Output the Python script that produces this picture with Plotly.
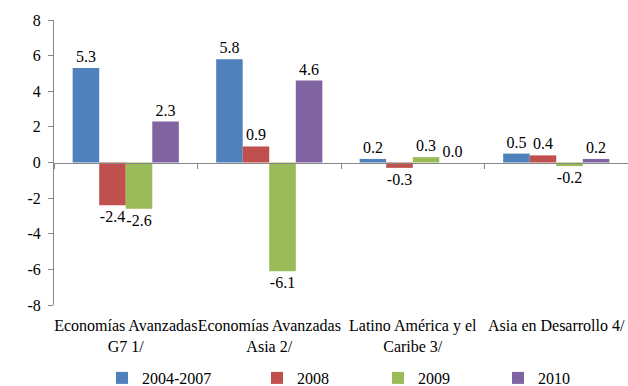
import plotly.graph_objects as go

# Regions on the horizontal axis
categories = [
    "Economías Avanzadas<br>G7 1/",
    "Economías Avanzadas<br>Asia 2/",
    "Latino América y el<br>Caribe 3/",
    "Asia en Desarrollo 4/",
]

# Growth by period (percent)
series_names = ["2004-2007", "2008", "2009", "2010"]
v_2004_2007 = [5.3, 5.8, 0.2, 0.5]
v_2008 = [-2.4, 0.9, -0.3, 0.4]
v_2009 = [-2.6, -6.1, 0.3, -0.2]
v_2010 = [2.3, 4.6, 0.0, 0.2]
series_values = [v_2004_2007, v_2008, v_2009, v_2010]

colors = ["#4F81BD", "#C0504D", "#9BBB59", "#8064A2"]

y_ticks = [-8, -6, -4, -2, 0, 2, 4, 6, 8]

FONT = "'Liberation Serif', 'Times New Roman', Times, serif"
AXIS_GRAY = "#868686"

W, H = 628, 386
M_L, M_R, M_T, M_B = 54, 0, 20, 81
plot_w = W - M_L - M_R
plot_h = H - M_T - M_B

# Legend entries: left edge of each label text (px), vertical centre (px)
legend_text_px = [142, 297, 418, 538]
legend_center_px = 378
legend_keys = ["legend", "legend2", "legend3", "legend4"]

fig = go.Figure()
for name, vals, col, lg in zip(series_names, series_values, colors, legend_keys):
    fig.add_trace(go.Bar(
        x=categories,
        y=vals,
        name=name,
        marker=dict(color=col, line=dict(width=0)),
        texttemplate="%{y:.1f}",
        textposition="outside",
        textfont=dict(family=FONT, size=16, color="#000000"),
        cliponaxis=False,
        legend=lg,
    ))

layout_legends = {}
for lg, tx in zip(legend_keys, legend_text_px):
    layout_legends[lg] = dict(
        orientation="h",
        xref="container",
        yref="container",
        x=(tx - 40) / W,
        xanchor="left",
        y=1 - legend_center_px / H,
        yanchor="middle",
        font=dict(family=FONT, size=16, color="#000000"),
        bgcolor="rgba(0,0,0,0)",
        borderwidth=0,
        itemclick=False,
    )

fig.update_layout(
    width=W,
    height=H,
    margin=dict(l=M_L, r=M_R, t=M_T, b=M_B),
    paper_bgcolor="white",
    plot_bgcolor="white",
    barmode="group",
    bargap=0.26,
    bargroupgap=0,
    font=dict(family=FONT, size=16, color="#000000"),
    showlegend=True,
    **layout_legends,
)

fig.update_xaxes(
    type="category",
    anchor="free",
    position=0.5,
    showline=True,
    linecolor=AXIS_GRAY,
    linewidth=1,
    ticks="outside",
    tickson="boundaries",
    ticklen=5,
    tickcolor=AXIS_GRAY,
    showgrid=False,
    zeroline=False,
    tickangle=0,
    ticklabelstandoff=148,
    tickfont=dict(family=FONT, size=16, color="#000000"),
    range=[-0.5, 3.5],
    automargin=False,
)

fig.update_yaxes(
    range=[-8, 8],
    tickvals=y_ticks,
    ticktext=[str(v) for v in y_ticks],
    showline=True,
    linecolor=AXIS_GRAY,
    linewidth=1,
    ticks="outside",
    ticklen=5,
    tickcolor=AXIS_GRAY,
    showgrid=False,
    zeroline=False,
    ticklabelstandoff=4,
    tickfont=dict(family=FONT, size=16, color="#000000"),
    automargin=False,
)

fig.write_html("out.html")
